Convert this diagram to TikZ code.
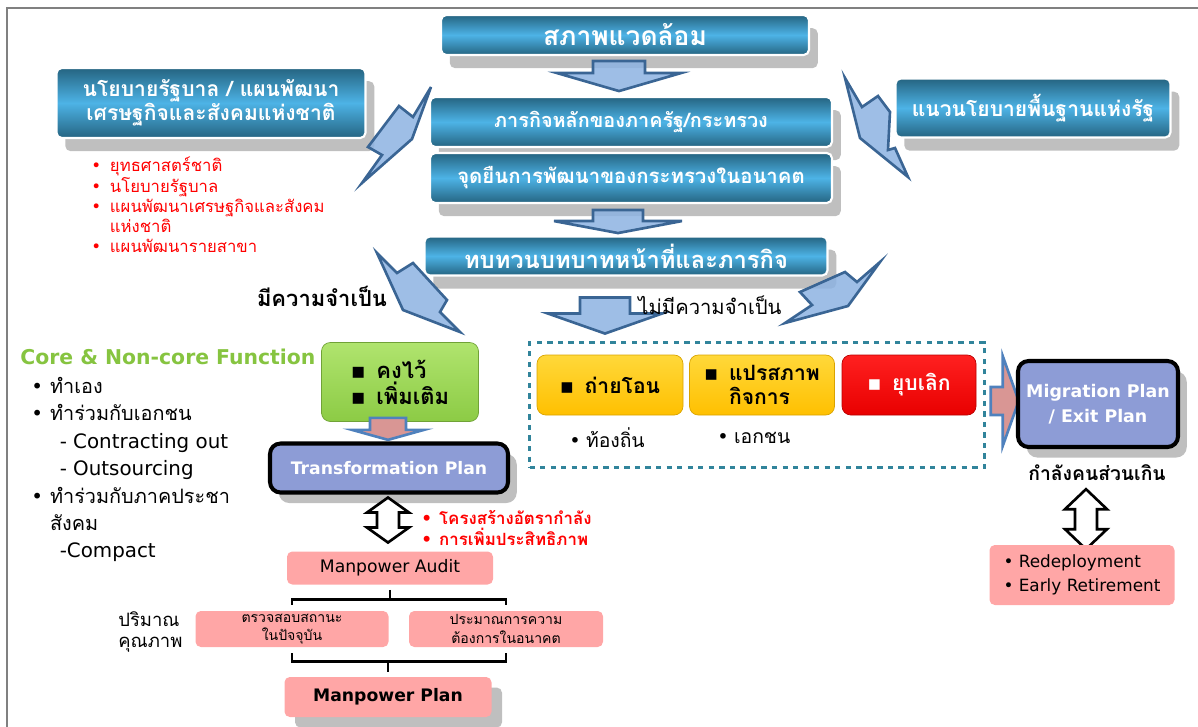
\documentclass[tikz,border=0pt]{standalone}
\usepackage{fontspec}
\setmainfont{DejaVu Sans}
\newfontfamily\thai[Script=Thai]{Loma}
\newfontfamily\lat{DejaVu Sans}
\usetikzlibrary{calc,shadows,positioning}

\definecolor{bluedk}{HTML}{256481}
\definecolor{bluelt}{HTML}{4DB3E6}
\definecolor{shadowgray}{HTML}{BFBFBF}
\definecolor{arrowfill}{HTML}{8DB3E2}
\definecolor{arrowdraw}{HTML}{3A6594}
\definecolor{arrowblue}{HTML}{4F81BD}
\definecolor{pinkarrow}{HTML}{D99694}
\definecolor{greenlt}{HTML}{B0E46E}
\definecolor{greendk}{HTML}{8CCB45}
\definecolor{yellowlt}{HTML}{FFD83A}
\definecolor{yellowdk}{HTML}{FFC000}
\definecolor{redlt}{HTML}{FF2020}
\definecolor{reddk}{HTML}{E80000}
\definecolor{lav}{HTML}{8D9CD6}
\definecolor{pinkbox}{HTML}{FFA6A6}
\definecolor{tealdash}{HTML}{31849B}
\definecolor{greentxt}{HTML}{86C440}
\definecolor{redtxt}{HTML}{FF0000}
\definecolor{framegray}{HTML}{808080}

\newcommand{\pxu}{0.02cm}
\newcommand{\bul}{{\lat •}}
\newcommand{\sqb}{{\lat ▪}}

% block arrow: style, start, angle, length, shaft half, head half, head length
\newcommand{\blkarrow}[7]{%
  \begin{scope}[shift={#2}, rotate=#3]
    \draw[#1] (-#5,0) -- (#5,0) -- (#5,#4-#7) -- (#6,#4-#7) -- (0,#4)
      -- (-#6,#4-#7) -- (-#5,#4-#7) -- cycle;
  \end{scope}}
% up-down arrow: style, top, length, shaft half, head half, head length
\newcommand{\dblarrow}[6]{%
  \begin{scope}[shift={#2}]
    \draw[#1] (0,0) -- (#5,#6) -- (#4,#6) -- (#4,#3-#6) -- (#5,#3-#6) -- (0,#3)
      -- (-#5,#3-#6) -- (-#4,#3-#6) -- (-#4,#6) -- (-#5,#6) -- cycle;
  \end{scope}}

\tikzset{
  bluebox/.style={rounded corners=3pt, draw=white, line width=1.2pt,
    top color=bluedk, bottom color=bluedk, middle color=bluelt, text=white,
    align=center, inner sep=0pt,
    drop shadow={fill=shadowgray, opacity=1, shadow xshift=5pt, shadow yshift=-7.5pt}},
  greenbox/.style={rounded corners=5pt, draw=greendk!80!black, line width=0.4pt,
    top color=greenlt, bottom color=greendk, align=left, inner sep=0pt},
  yellowbox/.style={rounded corners=5pt, draw=yellowdk!85!black, line width=0.4pt,
    top color=yellowlt, bottom color=yellowdk, inner sep=0pt,
    minimum height=60*\pxu, font=\thai\bfseries\fontsize{12}{14}\selectfont},
  redbox/.style={yellowbox, draw=reddk!80!black, top color=redlt, bottom color=reddk, text=white},
  planbox/.style={rounded corners=6pt, draw=black, line width=2.3pt, fill=lav, text=white,
    align=center, inner sep=0pt, font=\bfseries\fontsize{9.8}{14}\selectfont,
    drop shadow={fill=shadowgray, opacity=1, shadow xshift=5pt, shadow yshift=-6pt}},
  pinkbox/.style={rounded corners=3pt, fill=pinkbox, align=center, inner sep=0pt},
  barrow/.style={fill=arrowfill, fill opacity=0.85, draw=arrowdraw, line width=1.5pt, line join=miter},
  parrow/.style={fill=pinkarrow, draw=arrowblue, line width=1.5pt, line join=miter},
  darrow/.style={fill=white, draw=black, line width=1.5pt, line join=miter},
  brk/.style={line width=1.6pt, black},
}

\begin{document}
\begin{tikzpicture}[x=0.02cm, y=-0.02cm]
\useasboundingbox (0,0) rectangle (1198,727);
\draw[framegray, line width=1.2pt] (7,740) -- (7,8) -- (1210,8);

% top chain of blue boxes
\node[bluebox, minimum width=368*\pxu, minimum height=40*\pxu,
  font=\thai\bfseries\fontsize{15}{18}\selectfont] (env) at (625,35) {สภาพแวดล้อม};
\node[bluebox, minimum width=402*\pxu, minimum height=50*\pxu,
  font=\thai\bfseries\fontsize{11.3}{14}\selectfont] (mission) at (631,122) {ภารกิจหลักของภาครัฐ/กระทรวง};
\node[bluebox, minimum width=402*\pxu, minimum height=50*\pxu,
  font=\thai\bfseries\fontsize{11.6}{14}\selectfont] (vision) at (631,178) {จุดยืนการพัฒนาของกระทรวงในอนาคต};
\node[bluebox, minimum width=403*\pxu, minimum height=39*\pxu,
  font=\thai\bfseries\fontsize{13.5}{16}\selectfont] (review) at (626,256) {ทบทวนบทบาทหน้าที่และภารกิจ};
\node[bluebox, minimum width=309*\pxu, minimum height=70*\pxu,
  font=\thai\bfseries\fontsize{12}{13.6}\selectfont] (govpol) at (211,103) {นโยบายรัฐบาล / แผนพัฒนา\\เศรษฐกิจและสังคมแห่งชาติ};
\node[bluebox, minimum width=275*\pxu, minimum height=59*\pxu,
  font=\thai\bfseries\fontsize{12}{14}\selectfont] (statepol) at (1033,108) {แนวนโยบายพื้นฐานแห่งรัฐ};

% red list under the left box
\node[anchor=north west, inner sep=0pt, text=redtxt,
  font=\thai\fontsize{9.5}{11.3}\selectfont] (goals) at (91,157) {%
  \begin{tabular}{@{}l@{\hspace{5pt}}l@{}}
  \bul & ยุทธศาสตร์ชาติ\\
  \bul & นโยบายรัฐบาล\\
  \bul & แผนพัฒนาเศรษฐกิจและสังคม\\
       & แห่งชาติ\\
  \bul & แผนพัฒนารายสาขา
  \end{tabular}};

% flow arrows
\blkarrow{barrow}{($(env.south)+(-6,5)$)}{0}{30}{26}{62}{18}
\blkarrow{barrow}{($(vision.south)+(-13,6)$)}{0}{23}{25}{64}{12}
\blkarrow{barrow}{($(review.south)+(-21,21)$)}{0}{36}{25}{57}{20}
\draw[barrow] (431,87) -- (413,117) -- (399,106) -- (368,147) -- (382,155) -- (362,183) -- (412,139) -- cycle;
\draw[barrow] (845,78) -- (862,107) -- (878,96) -- (890,112) -- (888,150) -- (895,148) -- (908,177) -- (860,138) -- cycle;
\draw[barrow] (377,253) -- (397,273) -- (413,263) -- (447,300) -- (440,312) -- (460,332) -- (403,310) -- cycle;
\draw[barrow] (880,262) -- (857,282) -- (845,272) -- (800,292) -- (812,305) -- (785,323) -- (848,306) -- cycle;

\node[font=\thai\bfseries\fontsize{12.5}{15}\selectfont] (need) at (322,296) {มีความจำเป็น};
\node[font=\thai\fontsize{11.5}{14}\selectfont] (noneed) at (710,305) {ไม่มีความจำเป็น};

% left column
\node[anchor=west, inner sep=0pt, text=greentxt,
  font=\bfseries\fontsize{11.6}{14}\selectfont] (core) at (20,357) {Core \& Non-core Function};
\node[anchor=north west, inner sep=0pt, font=\fontsize{11.3}{15.6}\selectfont] (modes) at (31,374) {%
  \begin{tabular}{@{}l@{\hspace{4pt}}l@{}}
  \bul & {\thai ทำเอง}\\
  \bul & {\thai ทำร่วมกับเอกชน}\\
       & \hspace{5.5pt}- Contracting out\\
       & \hspace{5.5pt}- Outsourcing\\
  \bul & {\thai ทำร่วมกับภาคประชา}\\
       & {\thai สังคม}\\
       & \hspace{5.5pt}-Compact
  \end{tabular}};

% keep / add branch
\node[greenbox, minimum width=157*\pxu, minimum height=79*\pxu,
  font=\thai\bfseries\fontsize{12.5}{14.7}\selectfont] (keep) at (400,382) {\sqb\hspace{6pt}คงไว้\\\sqb\hspace{6pt}เพิ่มเติม};
\node[planbox, minimum width=238*\pxu, minimum height=49*\pxu] (trans) at (389,468) {Transformation Plan};
\blkarrow{parrow}{($(keep.south)+(-12,-4)$)}{0}{22}{18}{36}{10}
\dblarrow{darrow}{($(trans.south)+(-1,3)$)}{45}{11}{21}{15}
\node[anchor=west, inner sep=0pt, text=redtxt, align=left,
  font=\thai\bfseries\fontsize{9.6}{12.5}\selectfont] (struct) at (421,528) {\bul\hspace{4pt}โครงสร้างอัตรากำลัง\\\bul\hspace{4pt}การเพิ่มประสิทธิภาพ};

\node[pinkbox, minimum width=206*\pxu, minimum height=33*\pxu,
  font=\fontsize{9.8}{12}\selectfont] (audit) at (390,568) {Manpower Audit};
\node[pinkbox, minimum width=193*\pxu, minimum height=36*\pxu,
  font=\thai\fontsize{8}{10.5}\selectfont] (check) at (292,629) {ตรวจสอบสถานะ\\ในปัจจุบัน};
\node[pinkbox, minimum width=194*\pxu, minimum height=36*\pxu,
  font=\thai\fontsize{8}{10.5}\selectfont] (est) at (506,629) {ประมาณการความ\\ต้องการในอนาคต};
\node[pinkbox, minimum width=207*\pxu, minimum height=40*\pxu,
  font=\bfseries\fontsize{9.8}{12}\selectfont,
  drop shadow={fill=shadowgray, opacity=1, shadow xshift=6pt, shadow yshift=-6pt}] (plan) at (388,697) {Manpower Plan};
\node[anchor=west, inner sep=0pt, align=left,
  font=\thai\fontsize{10.5}{12}\selectfont] (qty) at (118,632) {ปริมาณ\\คุณภาพ};

\draw[brk] ($(audit.south)+(0,5)$) -- ($(audit.south)+(0,15)$);
\draw[brk] ($(check.north)+(0,-6)$) |- ($(audit.south)+(0,15)$) -| ($(est.north)+(0,-6)$);
\draw[brk] ($(check.south)+(0,6)$) |- ($(plan.north)+(0,-15)$) -| ($(est.south)+(0,6)$);
\draw[brk] ($(plan.north)+(0,-15)$) -- ($(plan.north)+(0,-5)$);

% no-need branch
\node[draw=tealdash, dashed, line width=1.4pt, minimum width=455*\pxu, minimum height=125*\pxu,
  inner sep=0pt] (dashbox) at (757,405) {};
\node[yellowbox, minimum width=146*\pxu] (transfer) at (610,385) {\sqb\hspace{6pt}ถ่ายโอน};
\node[yellowbox, minimum width=145*\pxu, align=left] (privat) at (762,385) {\sqb\hspace{6pt}แปรสภาพ\\\phantom{\sqb}\hspace{6pt}กิจการ};
\node[redbox, minimum width=134*\pxu] (abolish) at (909,385) {\sqb\hspace{6pt}ยุบเลิก};
\node[anchor=west, inner sep=0pt, font=\thai\fontsize{11}{13}\selectfont] (local) at (569,438) {\bul\hspace{3pt}ท้องถิ่น};
\node[anchor=west, inner sep=0pt, font=\thai\fontsize{11}{13}\selectfont] (private) at (717,438) {\bul\hspace{3pt}เอกชน};

\blkarrow{parrow}{($(dashbox.east)+(5,-4)$)}{90}{28}{14}{45}{16}
\node[planbox, minimum width=160*\pxu, minimum height=86*\pxu,
  font=\bfseries\fontsize{9.9}{14}\selectfont] (migr) at (1098,404) {Migration Plan\\/ Exit Plan};
\node[font=\thai\bfseries\fontsize{11}{13}\selectfont] (surplus) at (1097,473) {กำลังคนส่วนเกิน};
\dblarrow{darrow}{($(surplus.south)+(-11,2)$)}{60}{11}{21}{20}
\node[pinkbox, minimum width=185*\pxu, minimum height=60*\pxu, align=left,
  font=\fontsize{9.6}{13.6}\selectfont] (redeploy) at (1082,575) {\bul\hspace{3pt}Redeployment\\\bul\hspace{3pt}Early Retirement};
\end{tikzpicture}
\end{document}
